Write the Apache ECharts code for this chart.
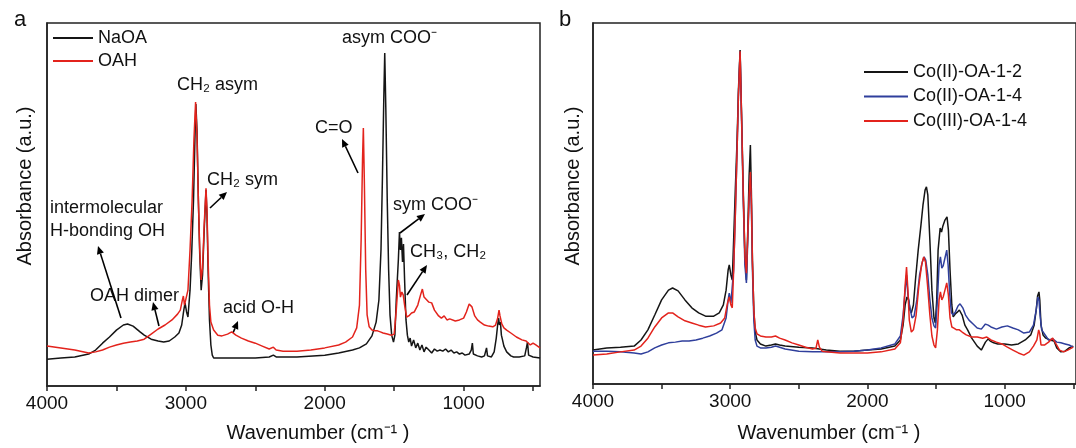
<!DOCTYPE html>
<html>
<head>
<meta charset="utf-8">
<script src="https://cdn.jsdelivr.net/npm/echarts@6/dist/echarts.min.js"></script>
<style>
html,body{margin:0;padding:0;background:#fff;overflow:hidden;}
#chart{width:1076px;height:448px;}
</style>
</head>
<body>
<div id="chart"></div>
<script>
// ---------- DATA ----------
// Panel a: [wavenumber (cm-1), absorbance (a.u.)]
const naoa = [
[4000,7.4],[3900,7.7],[3800,8.0],[3700,8.8],[3650,9.9],[3600,11.8],[3550,13.5],[3500,15.4],[3450,16.8],[3420,17.1],
[3380,16.5],[3330,14.9],[3300,14.0],[3250,12.9],[3200,12.4],[3160,12.1],[3120,12.4],[3080,13.5],[3050,14.6],[3030,16.8],
[3015,20.9],[3006,22.9],[2995,20.4],[2985,19.0],[2970,26.4],[2958,36.6],[2945,51.2],[2935,67.8],[2928,77.7],[2920,70.5],
[2910,51.2],[2900,36.1],[2890,26.4],[2880,30.6],[2868,43.0],[2855,54.0],[2848,47.1],[2840,32.0],[2830,18.2],[2820,11.3],
[2810,8.5],[2800,7.7],[2700,7.7],[2600,7.7],[2500,7.7],[2400,8.0],[2370,8.5],[2350,8.0],[2200,8.0],[2000,8.5],
[1900,9.1],[1800,9.9],[1750,10.5],[1700,11.6],[1660,13.8],[1630,17.6],[1610,23.7],[1595,37.5],[1585,56.7],[1575,78.8],
[1568,91.7],[1560,76.0],[1550,51.2],[1540,32.0],[1530,19.6],[1518,14.0],[1505,12.1],[1495,14.0],[1485,23.7],[1470,34.7],
[1462,42.4],[1455,37.5],[1448,40.8],[1440,34.2],[1433,39.1],[1425,29.2],[1415,18.2],[1405,14.0],[1395,12.1],[1385,13.2],
[1375,11.0],[1360,12.7],[1345,10.5],[1330,11.8],[1315,9.9],[1300,11.3],[1285,9.4],[1270,10.7],[1250,9.9],[1230,9.1],
[1210,10.2],[1190,9.6],[1170,9.9],[1150,9.6],[1130,10.2],[1110,9.4],[1090,9.9],[1070,9.1],[1050,9.4],[1030,8.8],
[1010,9.1],[990,8.5],[960,8.8],[945,9.9],[937,11.8],[930,8.8],[900,8.3],[870,8.0],[850,8.3],[835,10.5],
[828,8.3],[800,8.0],[780,9.4],[765,13.2],[755,16.8],[748,18.7],[742,16.8],[735,17.6],[728,14.0],[720,12.7],
[710,11.0],[690,9.4],[660,8.3],[640,8.0],[600,8.0],[560,8.3],[548,10.5],[540,12.1],[532,8.5],[500,8.0],[450,7.7]
];
const oah = [
[4000,11.0],[3900,10.5],[3800,9.9],[3700,9.1],[3650,9.4],[3600,9.9],[3550,10.7],[3500,11.3],[3450,11.8],[3400,12.1],
[3350,12.4],[3300,12.9],[3250,14.3],[3200,15.7],[3150,16.8],[3100,18.2],[3060,19.8],[3040,20.9],[3025,23.7],[3018,24.8],
[3010,22.3],[3000,22.3],[2985,26.4],[2970,37.5],[2955,51.2],[2942,67.8],[2930,78.2],[2920,69.1],[2910,51.2],[2900,37.5],
[2890,29.2],[2880,32.5],[2868,44.4],[2855,54.5],[2848,48.5],[2840,34.7],[2830,22.3],[2820,17.6],[2800,15.4],[2770,14.0],
[2740,13.8],[2700,14.3],[2670,14.9],[2640,14.0],[2600,13.2],[2550,12.4],[2500,11.8],[2450,11.0],[2400,10.2],[2370,10.7],
[2350,9.9],[2300,9.6],[2200,9.6],[2100,9.9],[2000,10.5],[1900,11.3],[1850,12.1],[1800,13.5],[1770,16.0],[1750,22.3],
[1738,40.2],[1728,62.3],[1722,71.1],[1715,56.7],[1705,32.0],[1695,19.6],[1680,16.3],[1660,15.4],[1640,15.2],[1620,15.2],
[1600,14.9],[1580,14.6],[1550,14.3],[1520,14.0],[1500,14.3],[1485,20.9],[1470,29.2],[1462,27.8],[1455,24.5],[1445,25.9],
[1435,25.1],[1425,22.3],[1410,19.0],[1395,19.3],[1375,20.1],[1355,20.4],[1330,22.3],[1310,25.1],[1297,26.7],[1285,24.5],
[1265,23.7],[1250,23.1],[1230,22.9],[1210,20.9],[1180,19.3],[1160,18.7],[1140,19.3],[1120,18.2],[1100,18.5],[1060,17.9],
[1030,18.2],[1000,18.7],[980,20.4],[960,22.6],[950,22.9],[940,21.8],[920,19.3],[900,18.2],[880,17.6],[850,16.8],
[820,16.5],[790,16.3],[770,16.8],[755,18.7],[745,20.9],[738,19.3],[725,17.1],[710,16.0],[690,15.4],[660,14.6],
[620,13.5],[580,12.7],[550,12.4],[520,11.3],[500,11.8],[480,11.3],[450,10.5]
];
// Panel b
const coII12 = [
[4000,9.4],[3900,10.0],[3800,10.2],[3700,10.5],[3650,12.2],[3600,15.0],[3550,19.1],[3500,23.3],[3450,26.0],[3420,26.6],
[3380,25.8],[3330,23.3],[3280,21.1],[3230,19.7],[3180,18.8],[3120,18.8],[3080,19.7],[3050,21.9],[3030,26.0],[3015,31.6],
[3007,33.0],[2995,30.2],[2985,28.8],[2975,39.9],[2963,53.7],[2950,67.6],[2940,81.4],[2928,92.5],[2918,75.9],[2905,53.7],
[2893,35.7],[2882,28.8],[2872,42.7],[2862,57.9],[2853,66.2],[2846,53.7],[2838,34.3],[2828,20.5],[2818,14.4],[2805,12.2],
[2780,11.1],[2740,10.5],[2700,10.8],[2670,11.1],[2640,10.8],[2600,10.5],[2500,10.2],[2400,10.0],[2300,9.4],[2200,9.1],
[2100,9.1],[2000,9.4],[1900,9.7],[1800,10.5],[1760,12.2],[1740,16.3],[1725,21.9],[1712,24.1],[1700,23.3],[1690,20.5],
[1680,19.7],[1665,21.9],[1650,28.8],[1630,37.1],[1610,44.0],[1595,49.6],[1580,53.7],[1570,54.6],[1560,52.4],[1545,39.9],
[1530,26.0],[1515,18.3],[1505,16.9],[1495,23.3],[1485,37.1],[1470,43.2],[1460,42.1],[1450,43.8],[1435,45.4],[1420,46.3],
[1410,42.7],[1398,31.6],[1385,21.9],[1375,18.6],[1360,19.4],[1345,19.9],[1330,20.5],[1310,19.1],[1290,16.3],[1270,15.0],
[1240,12.7],[1200,10.5],[1170,9.4],[1140,11.6],[1120,12.5],[1105,11.9],[1080,11.4],[1050,11.1],[1000,11.1],[950,10.8],
[900,11.1],[850,12.2],[810,13.6],[785,16.3],[770,20.5],[760,24.4],[750,25.5],[744,23.3],[735,16.3],[720,13.6],
[700,12.7],[670,12.2],[640,11.9],[620,10.0],[590,8.9],[560,9.1],[530,10.0],[500,10.5]
];
const coII14 = [
[4000,9.1],[3900,9.1],[3800,8.9],[3700,8.6],[3650,8.3],[3600,8.9],[3550,10.0],[3500,10.8],[3450,11.4],[3400,11.6],
[3350,11.9],[3300,11.9],[3250,12.2],[3200,12.7],[3150,13.3],[3100,14.1],[3060,15.0],[3030,18.3],[3015,23.3],[3007,25.2],
[2995,22.4],[2985,21.9],[2975,31.6],[2963,46.8],[2950,64.8],[2940,80.1],[2928,92.0],[2918,74.5],[2905,51.0],[2893,33.0],
[2882,28.0],[2872,39.9],[2862,51.0],[2853,57.9],[2846,49.6],[2838,31.6],[2828,17.7],[2818,12.2],[2805,10.5],[2780,10.0],
[2740,10.0],[2700,10.2],[2670,10.5],[2640,10.2],[2600,9.7],[2500,9.1],[2400,8.9],[2300,8.9],[2200,8.9],[2100,9.1],
[2000,9.4],[1900,10.0],[1800,11.1],[1760,13.3],[1740,19.1],[1725,26.0],[1715,30.2],[1705,24.7],[1690,21.1],[1675,18.3],
[1660,18.8],[1640,23.3],[1620,30.2],[1600,33.8],[1587,35.2],[1575,34.3],[1560,30.2],[1545,23.3],[1530,18.3],[1515,16.1],
[1503,15.5],[1490,23.3],[1478,33.0],[1468,35.2],[1458,32.1],[1448,32.7],[1435,34.9],[1422,37.1],[1412,33.0],[1400,24.7],
[1388,19.7],[1375,19.1],[1360,19.9],[1340,21.6],[1325,22.2],[1305,21.1],[1285,19.1],[1260,17.7],[1230,16.6],[1200,15.5],
[1170,15.2],[1140,16.6],[1120,16.3],[1100,15.8],[1060,15.2],[1020,15.8],[980,16.1],[940,15.5],[900,15.0],[860,14.1],
[820,14.4],[790,16.3],[770,20.5],[758,24.1],[750,23.3],[742,19.1],[730,15.0],[710,13.9],[680,12.2],[650,12.5],
[620,11.6],[590,11.4],[560,11.1],[530,10.8],[500,10.2]
];
const coIII14 = [
[4000,8.0],[3900,8.3],[3800,8.9],[3700,9.4],[3650,10.5],[3600,12.7],[3550,15.8],[3500,18.3],[3450,19.7],[3420,19.7],
[3380,18.6],[3330,17.5],[3280,16.9],[3230,16.3],[3180,15.8],[3120,16.1],[3070,16.9],[3040,18.3],[3020,22.4],[3007,24.1],
[2995,21.9],[2985,21.1],[2975,31.6],[2963,46.3],[2950,64.8],[2940,80.1],[2928,92.2],[2918,75.1],[2905,52.4],[2893,35.7],
[2882,30.7],[2872,41.3],[2862,52.4],[2853,58.7],[2846,51.0],[2838,33.8],[2828,20.5],[2818,15.5],[2805,13.9],[2780,13.3],
[2740,13.0],[2700,13.0],[2670,13.3],[2640,12.7],[2600,12.2],[2550,11.4],[2500,10.8],[2450,10.2],[2400,9.7],[2375,9.9],
[2362,12.2],[2350,10.2],[2330,9.1],[2300,8.9],[2200,8.6],[2100,8.6],[2000,8.6],[1900,8.9],[1800,9.7],[1760,11.4],
[1740,17.7],[1725,27.4],[1715,32.4],[1705,26.0],[1695,17.7],[1680,14.4],[1665,15.0],[1645,19.1],[1625,27.4],[1605,33.0],
[1590,35.2],[1577,33.8],[1562,27.4],[1545,19.1],[1530,13.3],[1515,10.8],[1503,10.0],[1490,15.0],[1478,23.3],[1468,25.5],
[1458,23.3],[1448,24.1],[1435,26.0],[1422,28.0],[1410,24.7],[1398,18.3],[1385,15.8],[1370,15.5],[1350,15.0],[1330,15.0],
[1310,14.4],[1280,13.6],[1240,13.0],[1200,13.0],[1160,12.7],[1130,13.0],[1100,12.2],[1060,11.6],[1020,11.1],[980,10.2],
[940,9.4],[900,8.6],[860,8.0],[820,8.9],[790,10.5],[765,12.2],[752,15.0],[745,14.1],[735,10.8],[710,10.8],
[680,11.6],[650,12.7],[630,11.4],[600,9.4],[570,8.9],[540,9.4],[500,10.2]
];
const seriesNamesA = ['NaOA','OAH'];
const seriesNamesB = ['Co(II)-OA-1-2','Co(II)-OA-1-4','Co(III)-OA-1-4'];
const tickValues = [4000,3500,3000,2500,2000,1500,1000,500];
const labelValues = [4000,3000,2000,1000];

// ---------- STYLE ----------
const FONT = '"Liberation Sans", Arial, Helvetica, sans-serif';
const BLACK = '#151515', RED = '#e3231c', BLUE = '#2f3f9c';

function arrow(x1,y1,x2,y2){
  const dx=x2-x1, dy=y2-y1, L=Math.hypot(dx,dy), ux=dx/L, uy=dy/L;
  const hl=8, hw=3.6, bx=x2-ux*hl, by=y2-uy*hl;
  return [
    {type:'line', shape:{x1:x1,y1:y1,x2:bx,y2:by}, style:{stroke:'#000',lineWidth:1.6}},
    {type:'polygon', shape:{points:[[x2,y2],[bx-uy*hw,by+ux*hw],[bx+uy*hw,by-ux*hw]]}, style:{fill:'#000'}}
  ];
}
function txt(x,y,s,size,align){
  return {type:'text', x:x, y:y, style:{text:s, fontSize:size||18, fontFamily:FONT, fill:'#111', align:align||'left', verticalAlign:'middle'}};
}

const xAxisCommon = {
  type:'value', inverse:true,
  axisLine:{show:true, lineStyle:{color:'#222', width:1.5}},
  axisTick:{show:true, inside:false, length:5, lineStyle:{color:'#222', width:1.5}, customValues:tickValues},
  axisLabel:{show:true, customValues:labelValues, fontSize:19, fontFamily:FONT, color:'#111', margin:8,
    formatter:function(v){ return String(v); }},
  splitLine:{show:false}
};
const yAxisCommon = {
  type:'value', min:0, max:100,
  axisLine:{show:true, lineStyle:{color:'#222', width:1.5}},
  axisTick:{show:false}, axisLabel:{show:false}, splitLine:{show:false}
};
function lineSeries(name, data, color, xi){
  return {type:'line', name:name, data:data, xAxisIndex:xi, yAxisIndex:xi, showSymbol:false, symbol:'none',
    color:color, lineStyle:{color:color, width:1.5}, animation:false, z: 2};
}

const graphics = [].concat(
  [txt(14,20,'a',22), txt(559,20,'b',22)],
  [ {type:'text', x:25, y:186, rotation:Math.PI/2, style:{text:'Absorbance (a.u.)', fontSize:20, fontFamily:FONT, fill:'#111', align:'center', verticalAlign:'middle'}},
    {type:'text', x:573, y:186, rotation:Math.PI/2, style:{text:'Absorbance (a.u.)', fontSize:20, fontFamily:FONT, fill:'#111', align:'center', verticalAlign:'middle'}},
    txt(318,433,'Wavenumber (cm\u207B\u00B9 )',20,'center'),
    txt(829,433,'Wavenumber (cm\u207B\u00B9 )',20,'center') ],
  [ txt(177,85,'CH\u2082 asym'), txt(207,180,'CH\u2082 sym'), txt(50,208,'intermolecular'), txt(50,231,'H-bonding OH'),
    txt(90,296,'OAH dimer'), txt(223,308,'acid O-H'), txt(315,128,'C=O'), txt(342,38,'asym COO\u207B'),
    txt(393,205,'sym COO\u207B'), txt(410,252,'CH\u2083, CH\u2082') ],
  arrow(210,208,227,192), arrow(121,318,98,246), arrow(159,326,153,302), arrow(233,333,238,321),
  arrow(358,173,342,139), arrow(400,233,425,214), arrow(407,295,427,265)
);

const option = {
  backgroundColor:'#fff',
  animation:false,
  grid:[
    {left:47, right:536, top:23, bottom:62, show:true, borderColor:'#222', borderWidth:1.5, containLabel:false},
    {left:593, right:-3, top:23, bottom:64, show:true, borderColor:'#222', borderWidth:1.5, containLabel:false}
  ],
  xAxis:[
    Object.assign({}, xAxisCommon, {gridIndex:0, min:450, max:4000}),
    Object.assign({}, xAxisCommon, {gridIndex:1, min:480, max:4000})
  ],
  yAxis:[
    Object.assign({}, yAxisCommon, {gridIndex:0}),
    Object.assign({}, yAxisCommon, {gridIndex:1})
  ],
  legend:[
    {data:seriesNamesA, orient:'vertical', left:53, top:28, itemWidth:40, itemHeight:2, icon:'rect', itemGap:3,
     textStyle:{fontSize:18, fontFamily:FONT, color:'#111', lineHeight:20}, selectedMode:false, padding:0},
    {data:seriesNamesB, orient:'vertical', left:864, top:62, itemWidth:44, itemHeight:2, icon:'rect', itemGap:4.5,
     textStyle:{fontSize:18, fontFamily:FONT, color:'#111', lineHeight:20}, selectedMode:false, padding:0}
  ],
  series:[
    lineSeries(seriesNamesA[0], naoa, BLACK, 0),
    lineSeries(seriesNamesA[1], oah, RED, 0),
    lineSeries(seriesNamesB[0], coII12, BLACK, 1),
    lineSeries(seriesNamesB[1], coII14, BLUE, 1),
    lineSeries(seriesNamesB[2], coIII14, RED, 1)
  ],
  graphic: graphics
};
const chart = echarts.init(document.getElementById('chart'), null, {renderer:'canvas'});
chart.setOption(option);
</script>
</body>
</html>
